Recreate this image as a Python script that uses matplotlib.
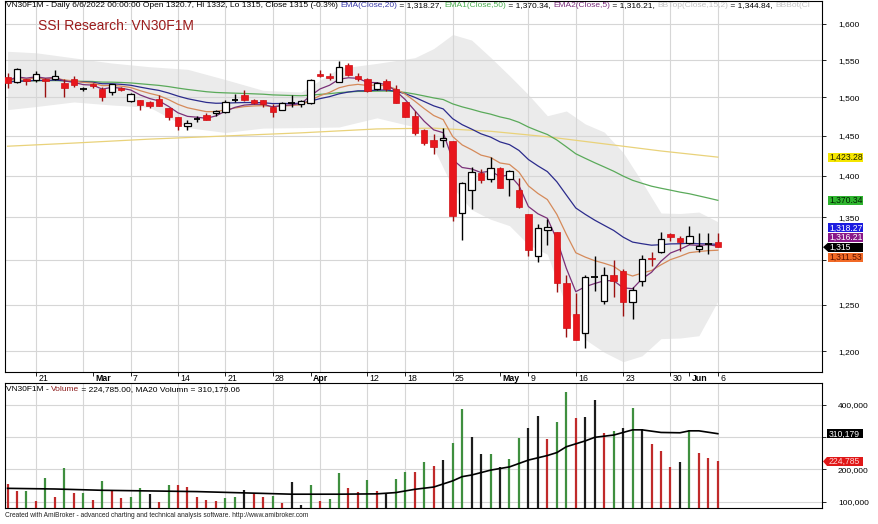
import numpy as np
import matplotlib
matplotlib.use('Agg')
import matplotlib.pyplot as plt
from matplotlib.patches import Rectangle, Polygon
from matplotlib.ticker import FixedLocator, NullLocator, FuncFormatter

plt.rcParams['font.family'] = ['Liberation Sans', 'DejaVu Sans']

# ---- data ----
dates = ['02-16', '02-17', '02-18', '02-21', '02-22', '02-23', '02-24', '02-25', '02-28',
         '03-01', '03-02', '03-03', '03-04', '03-07', '03-08', '03-09', '03-10', '03-11',
         '03-14', '03-15', '03-16', '03-17', '03-18', '03-21', '03-22', '03-23', '03-24',
         '03-25', '03-28', '03-29', '03-30', '03-31', '04-01', '04-04', '04-05', '04-06',
         '04-07', '04-08', '04-12', '04-13', '04-14', '04-15', '04-18', '04-19', '04-20',
         '04-21', '04-22', '04-25', '04-26', '04-27', '04-28', '04-29', '05-04', '05-05',
         '05-06', '05-09', '05-10', '05-11', '05-12', '05-13', '05-16', '05-17', '05-18',
         '05-19', '05-20', '05-23', '05-24', '05-25', '05-26', '05-27', '05-30', '05-31',
         '06-01', '06-02', '06-03', '06-06']

opens = [1527, 1521, 1524, 1523, 1525, 1524, 1519, 1525, 1511, 1518,
         1511, 1507, 1513, 1495, 1497, 1494, 1498, 1486, 1475, 1463,
         1472, 1477, 1480, 1481, 1497, 1503, 1496, 1496, 1488, 1484,
         1492, 1491, 1492, 1531, 1528, 1521, 1543, 1528, 1524, 1511,
         1522, 1511, 1494, 1476, 1458, 1445, 1445, 1444, 1355, 1383,
         1403, 1396, 1410, 1396, 1383, 1354, 1305, 1335, 1333, 1274,
         1240, 1219, 1281, 1254, 1283, 1288, 1253, 1276, 1303, 1309,
         1330, 1326, 1320, 1313, 1319, 1320.7]
highs = [1533, 1539, 1525, 1535, 1526, 1537, 1525, 1528, 1514, 1519,
         1514, 1518, 1514, 1506, 1497, 1495, 1503, 1486, 1475, 1471,
         1476, 1479, 1484, 1496, 1504, 1510, 1498, 1496, 1491, 1494,
         1503, 1496, 1525, 1536, 1532, 1549, 1546, 1533, 1526, 1520,
         1524, 1517, 1494, 1482, 1459, 1452, 1460, 1444, 1393, 1411,
         1408, 1423, 1411, 1407, 1397, 1354, 1342, 1348, 1333, 1283,
         1263, 1283, 1305, 1292, 1300, 1290, 1270, 1306, 1310, 1333,
         1332, 1328, 1340, 1331, 1331, 1332]
lows = [1513, 1519, 1517, 1520, 1500, 1523, 1501, 1514, 1508, 1513,
        1495, 1503, 1509, 1494, 1484, 1486, 1489, 1470, 1458, 1458,
        1468, 1470, 1476, 1480, 1494, 1495, 1491, 1487, 1475, 1484,
        1487, 1488, 1491, 1527, 1523, 1520, 1529, 1522, 1507, 1510,
        1509, 1492, 1474, 1451, 1439, 1427, 1436, 1346, 1323, 1360,
        1391, 1393, 1385, 1376, 1361, 1305, 1298, 1318, 1264, 1215,
        1212, 1204, 1265, 1251, 1259, 1238, 1235, 1271, 1294, 1308,
        1322, 1311, 1319, 1310, 1307, 1315]
closes = [1519, 1538, 1522, 1531, 1522, 1528, 1513, 1516, 1511, 1515,
          1500, 1518, 1510, 1505, 1490, 1489, 1489, 1474, 1463, 1466,
          1472, 1470, 1482, 1494, 1497, 1496, 1493, 1491, 1481, 1493,
          1492, 1495, 1523, 1529, 1526, 1540, 1530, 1524, 1509, 1519,
          1511, 1492, 1474, 1454, 1441, 1436, 1447, 1352, 1391, 1405,
          1395, 1410, 1385, 1406, 1362, 1312, 1337, 1338, 1274, 1225,
          1212, 1281, 1281, 1283, 1277, 1253, 1266, 1301, 1301, 1324,
          1327, 1321, 1328, 1316, 1319, 1315]

ema5 = [1522, 1527.3, 1525.6, 1527.4, 1525.6, 1526.4, 1521.9, 1519.9, 1516.9, 1516.3,
        1510.9, 1513.3, 1512.2, 1509.8, 1503.2, 1498.5, 1495.3, 1488.2, 1479.8, 1475.2,
        1474.1, 1472.7, 1475.8, 1481.9, 1486.9, 1489.9, 1490.9, 1490.9, 1487.6, 1489.4,
        1490.3, 1491.9, 1502.3, 1511.2, 1516.1, 1524.1, 1526.1, 1525.4, 1519.9, 1519.6,
        1516.7, 1508.5, 1497.0, 1482.7, 1468.8, 1457.8, 1454.2, 1420.1, 1410.4, 1408.6,
        1404.1, 1406.1, 1399.1, 1401.4, 1388.2, 1362.8, 1354.2, 1348.8, 1323.9, 1290.9,
        1264.6, 1270.1, 1273.7, 1276.8, 1276.9, 1268.9, 1267.9, 1279.0, 1286.3, 1298.9,
        1308.3, 1312.5, 1317.7, 1317.1, 1317.8, 1316.2]
ema10 = [1522, 1524.9, 1524.4, 1525.6, 1524.9, 1525.5, 1523.2, 1521.9, 1519.9, 1519.0,
         1515.5, 1516.0, 1514.9, 1513.1, 1508.9, 1505.3, 1502.3, 1497.1, 1490.9, 1486.4,
         1483.8, 1481.3, 1481.4, 1483.7, 1486.1, 1487.9, 1488.8, 1489.2, 1487.7, 1488.7,
         1489.3, 1490.3, 1496.3, 1502.3, 1506.6, 1512.7, 1515.8, 1517.3, 1515.8, 1516.4,
         1515.4, 1511.1, 1504.3, 1495.1, 1485.3, 1476.3, 1471.0, 1449.3, 1438.7, 1432.6,
         1425.8, 1422.9, 1416.0, 1414.2, 1404.7, 1387.8, 1378.6, 1371.2, 1353.5, 1330.1,
         1308.6, 1303.6, 1299.5, 1296.5, 1293.0, 1285.7, 1282.1, 1285.5, 1288.3, 1294.8,
         1300.7, 1304.4, 1308.7, 1310.0, 1311.0, 1311.5]
ema20 = [1520, 1521.7, 1521.7, 1522.6, 1522.5, 1523.0, 1522.1, 1521.5, 1520.5, 1520.0,
         1518.1, 1518.1, 1517.3, 1516.1, 1513.6, 1511.3, 1509.2, 1505.8, 1501.7, 1498.3,
         1495.8, 1493.4, 1492.3, 1492.5, 1492.9, 1493.2, 1493.2, 1493.0, 1491.9, 1492.0,
         1492.0, 1492.3, 1495.2, 1498.4, 1501.0, 1504.7, 1507.1, 1508.7, 1508.7, 1509.7,
         1509.8, 1508.1, 1504.9, 1500.1, 1494.5, 1488.9, 1484.9, 1472.2, 1464.5, 1458.8,
         1452.7, 1448.6, 1442.5, 1439.0, 1431.7, 1420.3, 1412.4, 1405.3, 1392.8, 1376.8,
         1361.1, 1353.5, 1346.6, 1340.5, 1334.5, 1326.7, 1320.9, 1319.0, 1317.3, 1317.9,
         1318.8, 1319.0, 1319.6, 1319.0, 1318.8, 1318.3]
ema50 = [1521, 1521.7, 1521.7, 1522.1, 1522.1, 1522.3, 1521.9, 1521.7, 1521.3, 1521.1,
         1520.3, 1520.2, 1519.8, 1519.2, 1518.1, 1517.0, 1515.9, 1514.3, 1512.3, 1510.5,
         1509.0, 1507.5, 1506.5, 1506.0, 1505.6, 1505.2, 1504.7, 1504.2, 1503.3, 1502.9,
         1502.5, 1502.2, 1503.0, 1504.0, 1504.9, 1506.3, 1507.2, 1507.9, 1507.9, 1508.3,
         1508.4, 1507.8, 1506.5, 1504.4, 1501.9, 1499.3, 1497.2, 1491.5, 1487.6, 1484.4,
         1480.9, 1478.1, 1474.5, 1471.8, 1467.5, 1461.4, 1456.5, 1451.9, 1444.9, 1436.3,
         1427.5, 1421.8, 1416.3, 1411.1, 1405.8, 1399.8, 1394.6, 1390.9, 1387.4, 1384.9,
         1382.6, 1380.2, 1378.2, 1375.6, 1373.0, 1370.3]

long_days = ['02-16', '02-25', '03-09', '03-21', '03-31', '04-13', '04-21', '04-29',
             '05-11', '05-19', '05-27', '06-06']
long_ema = [1437, 1441, 1446, 1450, 1454, 1459, 1460, 1456, 1449, 1440, 1431, 1423.3]

bb_days = ['02-16', '02-21', '02-25', '03-03', '03-09', '03-15', '03-21', '03-25', '03-31',
           '04-06', '04-13', '04-19', '04-21', '04-25', '04-27', '04-29', '05-05', '05-09',
           '05-11', '05-13', '05-17', '05-19', '05-23', '05-25', '05-27', '05-31', '06-02',
           '06-06']
bb_top = [1562, 1560, 1553, 1546, 1541, 1537.5, 1523.7, 1509.3, 1507.1, 1538.7, 1545.5,
          1553.2, 1565.8, 1585.2, 1577.5, 1553.7, 1528.9, 1503.6, 1476, 1482.2, 1465.4,
          1455, 1429.1, 1392.5, 1355.1, 1354.5, 1356.2, 1344.8]
bb_bot = [1484, 1488, 1494, 1490, 1487, 1460.7, 1454.5, 1460.1, 1460.7, 1461.5, 1473.3,
          1461.6, 1434.6, 1386, 1359.1, 1347.7, 1340.1, 1318, 1306.8, 1247.8, 1212.6,
          1199, 1189.1, 1195.3, 1213.5, 1214.1, 1216.6, 1254.2]

volume = [155, 134, 134, 103, 173, 116, 204, 129, 129, 106,
          165, 134, 113, 116, 144, 124, 100, 152, 152, 147,
          114, 106, 104, 111, 114, 137, 127, 116, 118, 98,
          162, 91, 152, 104, 108, 190, 142, 132, 168, 135,
          127, 170, 193, 193, 224, 211, 229, 282, 385, 301,
          247, 247, 207, 231, 296, 327, 365, 293, 347, 439,
          358, 361, 414, 313, 318, 327, 390, 324, 278, 258,
          207, 223, 322, 252, 236, 224.785]
vol_color = "rrgrgrgrgr" "grrggkrgrr" "rrrggkrrgr" "kkgrggrrgr" "kggrgrkggk" \
            "kgkggkkrgg" "rkkrgkgkrr" "rkgrrr"

ma_days = ['02-16', '02-23', '03-02', '03-09', '03-16', '03-23', '03-30', '04-06', '04-13',
           '04-15', '04-19', '04-21', '04-25', '04-26', '04-27', '04-29', '05-05', '05-09',
           '05-11', '05-12', '05-13', '05-17', '05-18', '05-20', '05-24', '05-25', '05-27',
           '05-31', '06-01', '06-02', '06-06']
vol_ma20 = [142, 140, 136, 134, 132, 128, 124, 124, 125, 129, 139, 146, 165, 178, 183, 198,
            208, 229, 243, 252, 270, 288, 299, 306, 322, 322, 314, 313, 319, 319, 310.179]

date_labels = [('02-21', '21'), ('03-01', 'Mar'), ('03-07', '7'), ('03-14', '14'),
               ('03-21', '21'), ('03-28', '28'), ('04-01', 'Apr'), ('04-12', '12'),
               ('04-18', '18'), ('04-25', '25'), ('05-04', 'May'), ('05-09', '9'),
               ('05-16', '16'), ('05-23', '23'), ('05-30', '30'), ('06-01', 'Jun'),
               ('06-06', '6')]
week_lines = ['02-21', '02-28', '03-07', '03-14', '03-21', '03-28', '04-04', '04-12',
              '04-18', '04-25', '05-09', '05-16', '05-23', '05-30', '06-06']
price_ticks = [1200, 1250, 1300, 1350, 1400, 1450, 1500, 1550, 1600]
vol_ticks = [100000, 200000, 300000, 400000]
# tick labels that sit under a value tag in the original are not printed
hidden_ticks = [1300, 300000]

# ---- figure ----
W, H = 879, 524
fig = plt.figure(figsize=(W / 100, H / 100), dpi=100)


def px_box(l, t, r, b):
    return [l / W, 1 - b / H, (r - l) / W, (b - t) / H]


ax = fig.add_axes(px_box(5, 1, 822, 372))
axv = fig.add_axes(px_box(5, 383, 822, 508))

pos = {d: i for i, d in enumerate(dates)}
xs = np.arange(len(dates))
grid_c = '#d6d6d6'


def fmt(v, p):
    return '' if v in hidden_ticks else f"{v:,.0f}"


for a in (ax, axv):
    a.set_xlim(-0.27, 86.0)
    for d in week_lines:
        a.axvline(pos[d], color=grid_c, lw=0.8, zorder=1.5)
    for s in a.spines.values():
        s.set_linewidth(0.8)
        s.set_color('black')

# price panel
ax.set_yscale('log')
ax.set_ylim(1178.4, 1632.6)
ax.yaxis.tick_right()
ax.yaxis.set_major_locator(FixedLocator(price_ticks))
ax.yaxis.set_minor_locator(NullLocator())
ax.yaxis.set_major_formatter(FuncFormatter(fmt))
ax.tick_params(axis='y', length=3, width=0.6, labelsize=6, pad=8.5)
for v in price_ticks:
    ax.axhline(v, color=grid_c, lw=0.8, zorder=1.5)

bbx = [pos[d] for d in bb_days]
ax.fill_between(bbx, bb_bot, bb_top, color='#ebebeb', lw=0, zorder=1)

ax.plot([pos[d] for d in long_days], long_ema, color='#e9d27a', lw=0.9, zorder=3)
ax.plot(xs, ema50, color='#5aaa5a', lw=0.9, zorder=3)
ax.plot(xs, ema20, color='#2b2b8c', lw=0.9, zorder=3)
ax.plot(xs, ema10, color='#d58a5a', lw=0.9, zorder=3)
ax.plot(xs, ema5, color='#7a3078', lw=0.9, zorder=3)

bw = 0.68
for i in xs:
    o, h, l, c = opens[i], highs[i], lows[i], closes[i]
    if c > o:
        ax.vlines(i, l, h, color='black', lw=1.0, zorder=4)
        ax.add_patch(Rectangle((i - bw / 2, o), bw, c - o, facecolor='white',
                               edgecolor='black', lw=0.9, zorder=5))
    elif c < o:
        ax.vlines(i, l, h, color='#9a1010', lw=1.0, zorder=4)
        ax.add_patch(Rectangle((i - bw / 2, c), bw, o - c, facecolor='#e8161c',
                               edgecolor='#d01015', lw=0.5, zorder=5))
    else:
        ax.vlines(i, l, h, color='black', lw=1.0, zorder=4)
        ax.hlines(o, i - bw / 2, i + bw / 2, color='black', lw=1.3, zorder=5)

lab_pos = [pos[d] for d, _ in date_labels]
ax.set_xticks(lab_pos)
ax.tick_params(axis='x', length=3, width=0.6, direction='out', labelbottom=False)
for (d, lbl) in date_labels:
    bold = not lbl.isdigit()
    ax.annotate(lbl, xy=(pos[d], 0), xycoords=('data', 'axes fraction'),
                xytext=(1.6, -1.3), textcoords='offset points', ha='left', va='top',
                fontsize=6.3, fontweight='bold' if bold else 'normal',
                annotation_clip=False)

# volume panel
axv.set_ylim(81500, 466200)
axv.yaxis.tick_right()
axv.yaxis.set_major_locator(FixedLocator(vol_ticks))
axv.yaxis.set_major_formatter(FuncFormatter(fmt))
axv.tick_params(axis='y', length=3, width=0.6, labelsize=6, pad=8.5)
axv.set_xticks([])
for v in vol_ticks:
    axv.axhline(v, color=grid_c, lw=0.8, zorder=1.5)
cmap = {'g': '#3f8f3f', 'r': '#c02a2a', 'k': '#1c1c1c'}
axv.vlines(xs, 0, np.array(volume) * 1000, colors=[cmap[c] for c in vol_color],
           lw=1.6, zorder=3)
axv.plot([pos[d] for d in ma_days], np.array(vol_ma20) * 1000, color='black', lw=1.2,
         zorder=4)

# ---- texts ----
renderer = fig.canvas.get_renderer()


def text_width(s, fs):
    t = fig.text(0, 0, s + '|', fontsize=fs)
    w = t.get_window_extent(renderer).width
    t.remove()
    t = fig.text(0, 0, '|', fontsize=fs)
    w -= t.get_window_extent(renderer).width
    t.remove()
    return w


def put_parts(x_px, y_px, parts, fs):
    prefix = ''
    for s, c in parts:
        x = x_px + (text_width(prefix, fs) if prefix else 0)
        fig.text(x / W, 1 - y_px / H, s, color=c, fontsize=fs, ha='left', va='center')
        prefix += s


put_parts(6, 5.5, [
    ("VN30F1M - Daily 6/6/2022 00:00:00 Open 1320.7, Hi 1332, Lo 1315, Close 1315 (-0.3%) ",
     'black'),
    ("EMA(Close,20)", '#3c3caa'), (" = 1,318.27, ", 'black'),
    ("EMA1(Close,50)", '#4caf50'), (" = 1,370.34, ", 'black'),
    ("EMA2(Close,5)", '#7b2d7b'), (" = 1,316.21, ", 'black'),
    ("BBTop(Close,15,2)", '#c4c4c4'), (" = 1,344.84, ", 'black'),
    ("BBBot(Cl", '#c4c4c4')], 6.05)

fig.text(38 / W, 1 - 26 / H, "SSI Research: VN30F1M", color='#9c1c1c', fontsize=10,
         ha='left', va='center')

put_parts(6, 389.5, [("VN30F1M - ", 'black'), ("Volume", '#8b1a1a'),
                     (" = 224,785.00, MA20 Volumn = 310,179.06", 'black')], 6.0)

fig.text(5 / W, 1 - 515.5 / H,
         "Created with AmiBroker - advanced charting and technical analysis software. "
         "http://www.amibroker.com", fontsize=4.75, color='#222222', ha='left', va='center')


def py(a, v):
    return H - a.transData.transform((0, v))[1]


def tag(y_px, text, fc, tc, x0=828, arrow=False):
    h = 9
    fig.add_artist(Rectangle((x0 / W, 1 - (y_px + h / 2) / H), (863 - x0) / W, h / H,
                             transform=fig.transFigure, facecolor=fc, edgecolor='none',
                             zorder=5))
    if arrow:
        fig.add_artist(Polygon([(823 / W, 1 - y_px / H), (x0 / W, 1 - (y_px - h / 2) / H),
                                (x0 / W, 1 - (y_px + h / 2) / H)], closed=True,
                               transform=fig.transFigure, facecolor=fc, edgecolor='none',
                               zorder=5))
    fig.text((x0 + 1.5) / W, 1 - (y_px + 0.3) / H, text, color=tc, fontsize=6.2,
             ha='left', va='center', zorder=6)


y_close = py(ax, closes[-1])
tag(py(ax, long_ema[-1]), "1,423.28", '#f5e600', '#222200')
tag(py(ax, ema50[-1]), "1,370.34", '#2fb52f', '#002200')
tag(y_close - 19.5, "1,318.27", '#1c1ce0', 'white')
tag(y_close - 9.7, "1,316.21", '#8a188a', 'white')
tag(y_close, "1,315", 'black', 'white', arrow=True)
tag(y_close + 10, "1,311.53", '#f26a26', '#5a1000')
tag(py(axv, 310179), "310,179", 'black', 'white', x0=827)
tag(py(axv, 224785), "224,785", '#e01818', '#ffd0d0', x0=827, arrow=True)

fig.savefig('out.png', dpi=100)
